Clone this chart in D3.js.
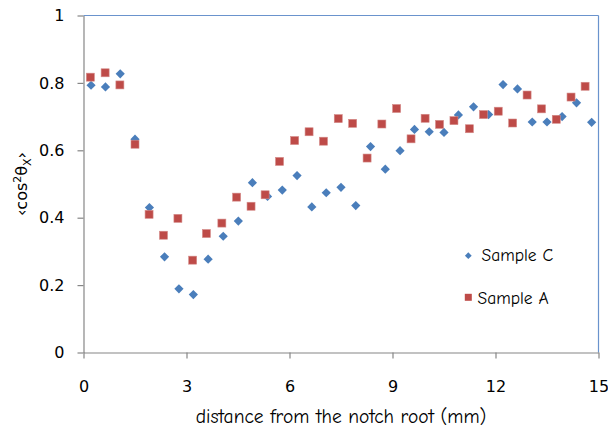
<!DOCTYPE html>
<html>
<head>
<meta charset="utf-8">
<script src="https://cdn.jsdelivr.net/npm/d3@7"></script>
<style>
  html, body { margin: 0; padding: 0; background: #fff; }
  svg { display: block; }
</style>
</head>
<body>
<svg id="chart" width="608" height="433"></svg>
<script>
// ---- data ----
const xC = [0.22,0.64,1.07,1.50,1.92,2.36,2.78,3.20,3.63,4.07,4.51,4.92,5.36,5.79,6.22,6.65,7.07,7.50,7.93,8.36,8.79,9.22,9.64,10.07,10.50,10.92,11.36,11.80,12.22,12.64,13.07,13.50,13.94,14.36,14.80];
const yC = [0.793,0.788,0.827,0.633,0.430,0.284,0.189,0.172,0.277,0.345,0.390,0.504,0.463,0.482,0.525,0.432,0.474,0.490,0.436,0.611,0.544,0.599,0.662,0.655,0.653,0.705,0.729,0.706,0.795,0.782,0.684,0.684,0.700,0.741,0.683];
const xA = [0.20,0.63,1.06,1.50,1.91,2.33,2.75,3.18,3.58,4.03,4.46,4.88,5.29,5.71,6.15,6.57,6.99,7.42,7.84,8.26,8.69,9.12,9.54,9.95,10.37,10.79,11.24,11.65,12.08,12.50,12.92,13.34,13.77,14.20,14.61];
const yA = [0.817,0.830,0.794,0.618,0.410,0.348,0.398,0.274,0.353,0.384,0.461,0.434,0.468,0.567,0.629,0.655,0.627,0.694,0.680,0.577,0.678,0.724,0.634,0.695,0.677,0.688,0.664,0.706,0.716,0.681,0.764,0.723,0.692,0.758,0.790];
const xTicks = [0, 3, 6, 9, 12, 15];
const yTicks = [0, 0.2, 0.4, 0.6, 0.8, 1];
const seriesNames = ["Sample C", "Sample A"];
const xTitle = "distance from the notch root (mm)";

// ---- layout ----
const svg = d3.select("#chart");
const L = 83.5, R = 598.5, T = 15.5, B = 352.5;
const x = d3.scaleLinear().domain([0, 15]).range([L, R]);
const y = d3.scaleLinear().domain([0, 1]).range([B, T]);
const axisColor = "#868686";
const frameColor = "#6a93cd";
const blue = "#4a7ebb", red = "#be4b48";
const tickFont = "'DejaVu Sans', Verdana, sans-serif";
const comicFont = "'Comic Sans MS', 'Comic Neue', 'DejaVu Sans', sans-serif";

// frame (top and right)
svg.append("line").attr("x1", L).attr("x2", R).attr("y1", T).attr("y2", T)
  .attr("stroke", frameColor).attr("stroke-width", 1.2);
svg.append("line").attr("x1", R).attr("x2", R).attr("y1", T).attr("y2", B)
  .attr("stroke", frameColor).attr("stroke-width", 1.2);

// axes
const fmtY = d => (d === 0 ? "0" : d === 1 ? "1" : d.toFixed(1));
const gy = svg.append("g").attr("transform", `translate(${L},0)`)
  .call(d3.axisLeft(y).tickValues(yTicks).tickFormat(fmtY).tickSize(6).tickSizeOuter(0).tickPadding(13));
const gx = svg.append("g").attr("transform", `translate(0,${B})`)
  .call(d3.axisBottom(x).tickValues(xTicks).tickFormat(d3.format("d")).tickSize(6).tickSizeOuter(0).tickPadding(22));
[gx, gy].forEach(g => {
  g.select(".domain").attr("stroke", axisColor).attr("stroke-width", 1.2);
  g.selectAll(".tick line").attr("stroke", axisColor).attr("stroke-width", 1.2);
  g.selectAll(".tick text").attr("fill", "#000").style("font-family", tickFont).style("font-size", "16px");
});

// markers
const diamond = (cx, cy, r) => `M${cx},${cy - r}L${cx + r},${cy}L${cx},${cy + r}L${cx - r},${cy}Z`;
svg.append("g").selectAll("path").data(xC.map((d, i) => [d, yC[i]])).join("path")
  .attr("d", d => diamond(x(d[0]), y(d[1]), 4.6))
  .attr("fill", blue);
svg.append("g").selectAll("rect").data(xA.map((d, i) => [d, yA[i]])).join("rect")
  .attr("x", d => x(d[0]) - 4).attr("y", d => y(d[1]) - 4)
  .attr("width", 8).attr("height", 8)
  .attr("fill", red).attr("stroke", "#d48a88").attr("stroke-width", 0.6);

// legend
const lg = svg.append("g");
lg.append("path").attr("d", diamond(468.3, 255.7, 3.4)).attr("fill", blue);
lg.append("text").attr("x", 481.5).attr("y", 261).text(seriesNames[0])
  .style("font-family", comicFont).style("font-size", "17.5px").attr("fill", "#000");
lg.append("rect").attr("x", 464.8).attr("y", 293.8).attr("width", 7).attr("height", 7).attr("fill", red);
lg.append("text").attr("x", 477.5).attr("y", 304).text(seriesNames[1])
  .style("font-family", comicFont).style("font-size", "17.5px").attr("fill", "#000");

// x title
svg.append("text").attr("x", (L + R) / 2).attr("y", 423).attr("text-anchor", "middle")
  .style("font-family", comicFont).style("font-size", "19.5px").attr("fill", "#000")
  .text(xTitle);

// y title  <cos²θX>
const yt = svg.append("text").attr("transform", "translate(27,184) rotate(-90)")
  .attr("text-anchor", "middle")
  .style("font-family", tickFont).style("font-size", "16px").attr("fill", "#000");
yt.append("tspan").text("\u2039cos");
yt.append("tspan").attr("dy", -6).style("font-size", "11px").text("2");
yt.append("tspan").attr("dy", 6).text("\u03b8");
yt.append("tspan").attr("dy", 4).style("font-size", "11px").text("X");
yt.append("tspan").attr("dy", -4).text("\u203a");
</script>
</body>
</html>
